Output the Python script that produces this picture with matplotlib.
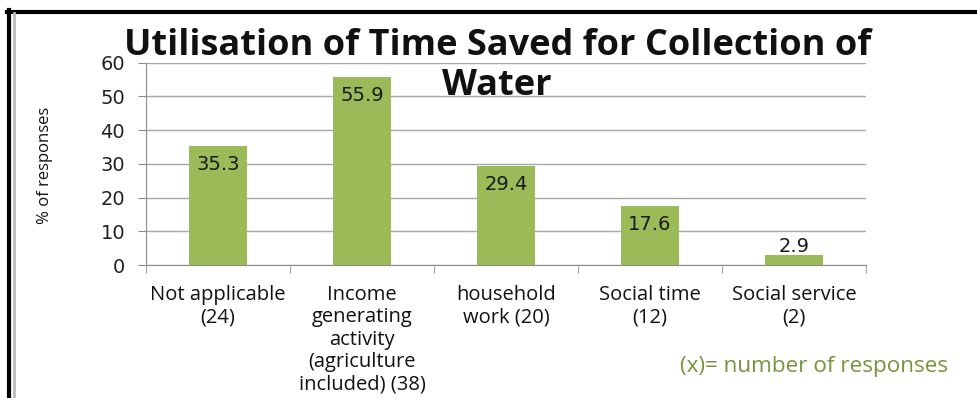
import numpy as np
import matplotlib.pyplot as plt
from matplotlib.lines import Line2D

# Données du graphique
categories = ['Not applicable\n(24)', 'Income\ngenerating\nactivity\n(agriculture\nincluded) (38)',
              'household\nwork (20)', 'Social time\n(12)', 'Social service\n(2)']
percent = [35.3, 55.9, 29.4, 17.6, 2.9]
yticks = [0, 10, 20, 30, 40, 50, 60]

fig = plt.figure(figsize=(9.77, 3.98), dpi=100)
ax = fig.add_axes([0.1494, 0.334, 0.737, 0.5083])

x = np.arange(len(categories))
bars = ax.bar(x, percent, width=0.4, color='#9BBB59', zorder=3)

ax.set_xlim(-0.5, len(categories) - 0.5)
ax.set_ylim(0, 60)
ax.set_yticks(yticks)
ax.yaxis.grid(True, color='#a6a6a6', linewidth=1, zorder=0)
ax.tick_params(axis='y', length=6, color='#8c8c8c', labelsize=14, labelcolor='#222222', pad=9)
for lab in ax.get_yticklabels():
    lab.set_family('DejaVu Sans')

# Graduations de l'axe x entre les catégories
ax.set_xticks(x)
ax.set_xticklabels(categories, family='Open Sans', fontsize=14.5, linespacing=1.17, color='#111111')
ax.set_xticks(np.arange(-0.5, len(categories)), minor=True)
ax.tick_params(axis='x', which='major', length=0, pad=14)
ax.tick_params(axis='x', which='minor', length=6, color='#8c8c8c')

for side in ['top', 'right']:
    ax.spines[side].set_visible(False)
ax.spines['left'].set_color('#8c8c8c')
ax.spines['bottom'].set_color('#8c8c8c')

# Étiquettes de valeur
for xi, v in zip(x, percent):
    if v > 10:
        ax.text(xi, v - 5.6, f'{v}', ha='center', va='center', fontsize=14, color='#1a1a1a',
                family='DejaVu Sans', zorder=4)
    else:
        ax.text(xi, v + 2.7, f'{v}', ha='center', va='center', fontsize=14, color='#1a1a1a',
                family='DejaVu Sans', zorder=4)

ax.set_ylabel('% of responses', family='Open Sans', fontsize=12, fontweight='medium',
              color='#111111')
ax.yaxis.set_label_coords(-0.129, 0.495)

# Titre sur deux lignes
fig.text(0.509, 0.885, 'Utilisation of Time Saved for Collection of', ha='center', va='center',
         family='Open Sans', fontweight='bold', fontsize=26, color='#111111')
fig.text(0.509, 0.785, 'Water', ha='center', va='center',
         family='Open Sans', fontweight='bold', fontsize=26, color='#111111')

fig.text(0.97, 0.08, '(x)= number of responses', ha='right', va='center',
         family='Open Sans', fontsize=16.2, color='#77933C')

# Cadre de la diapositive
fig.add_artist(Line2D([7 / 977, 1], [1 - 11.5 / 398] * 2, color='black', linewidth=3, transform=fig.transFigure))
fig.add_artist(Line2D([8.5 / 977] * 2, [0, 1 - 10 / 398], color='black', linewidth=3, transform=fig.transFigure))
fig.add_artist(Line2D([14 / 977] * 2, [0, 1 - 13 / 398], color='#bbbbbb', linewidth=2, transform=fig.transFigure))

fig.savefig('out.png', dpi=100)
